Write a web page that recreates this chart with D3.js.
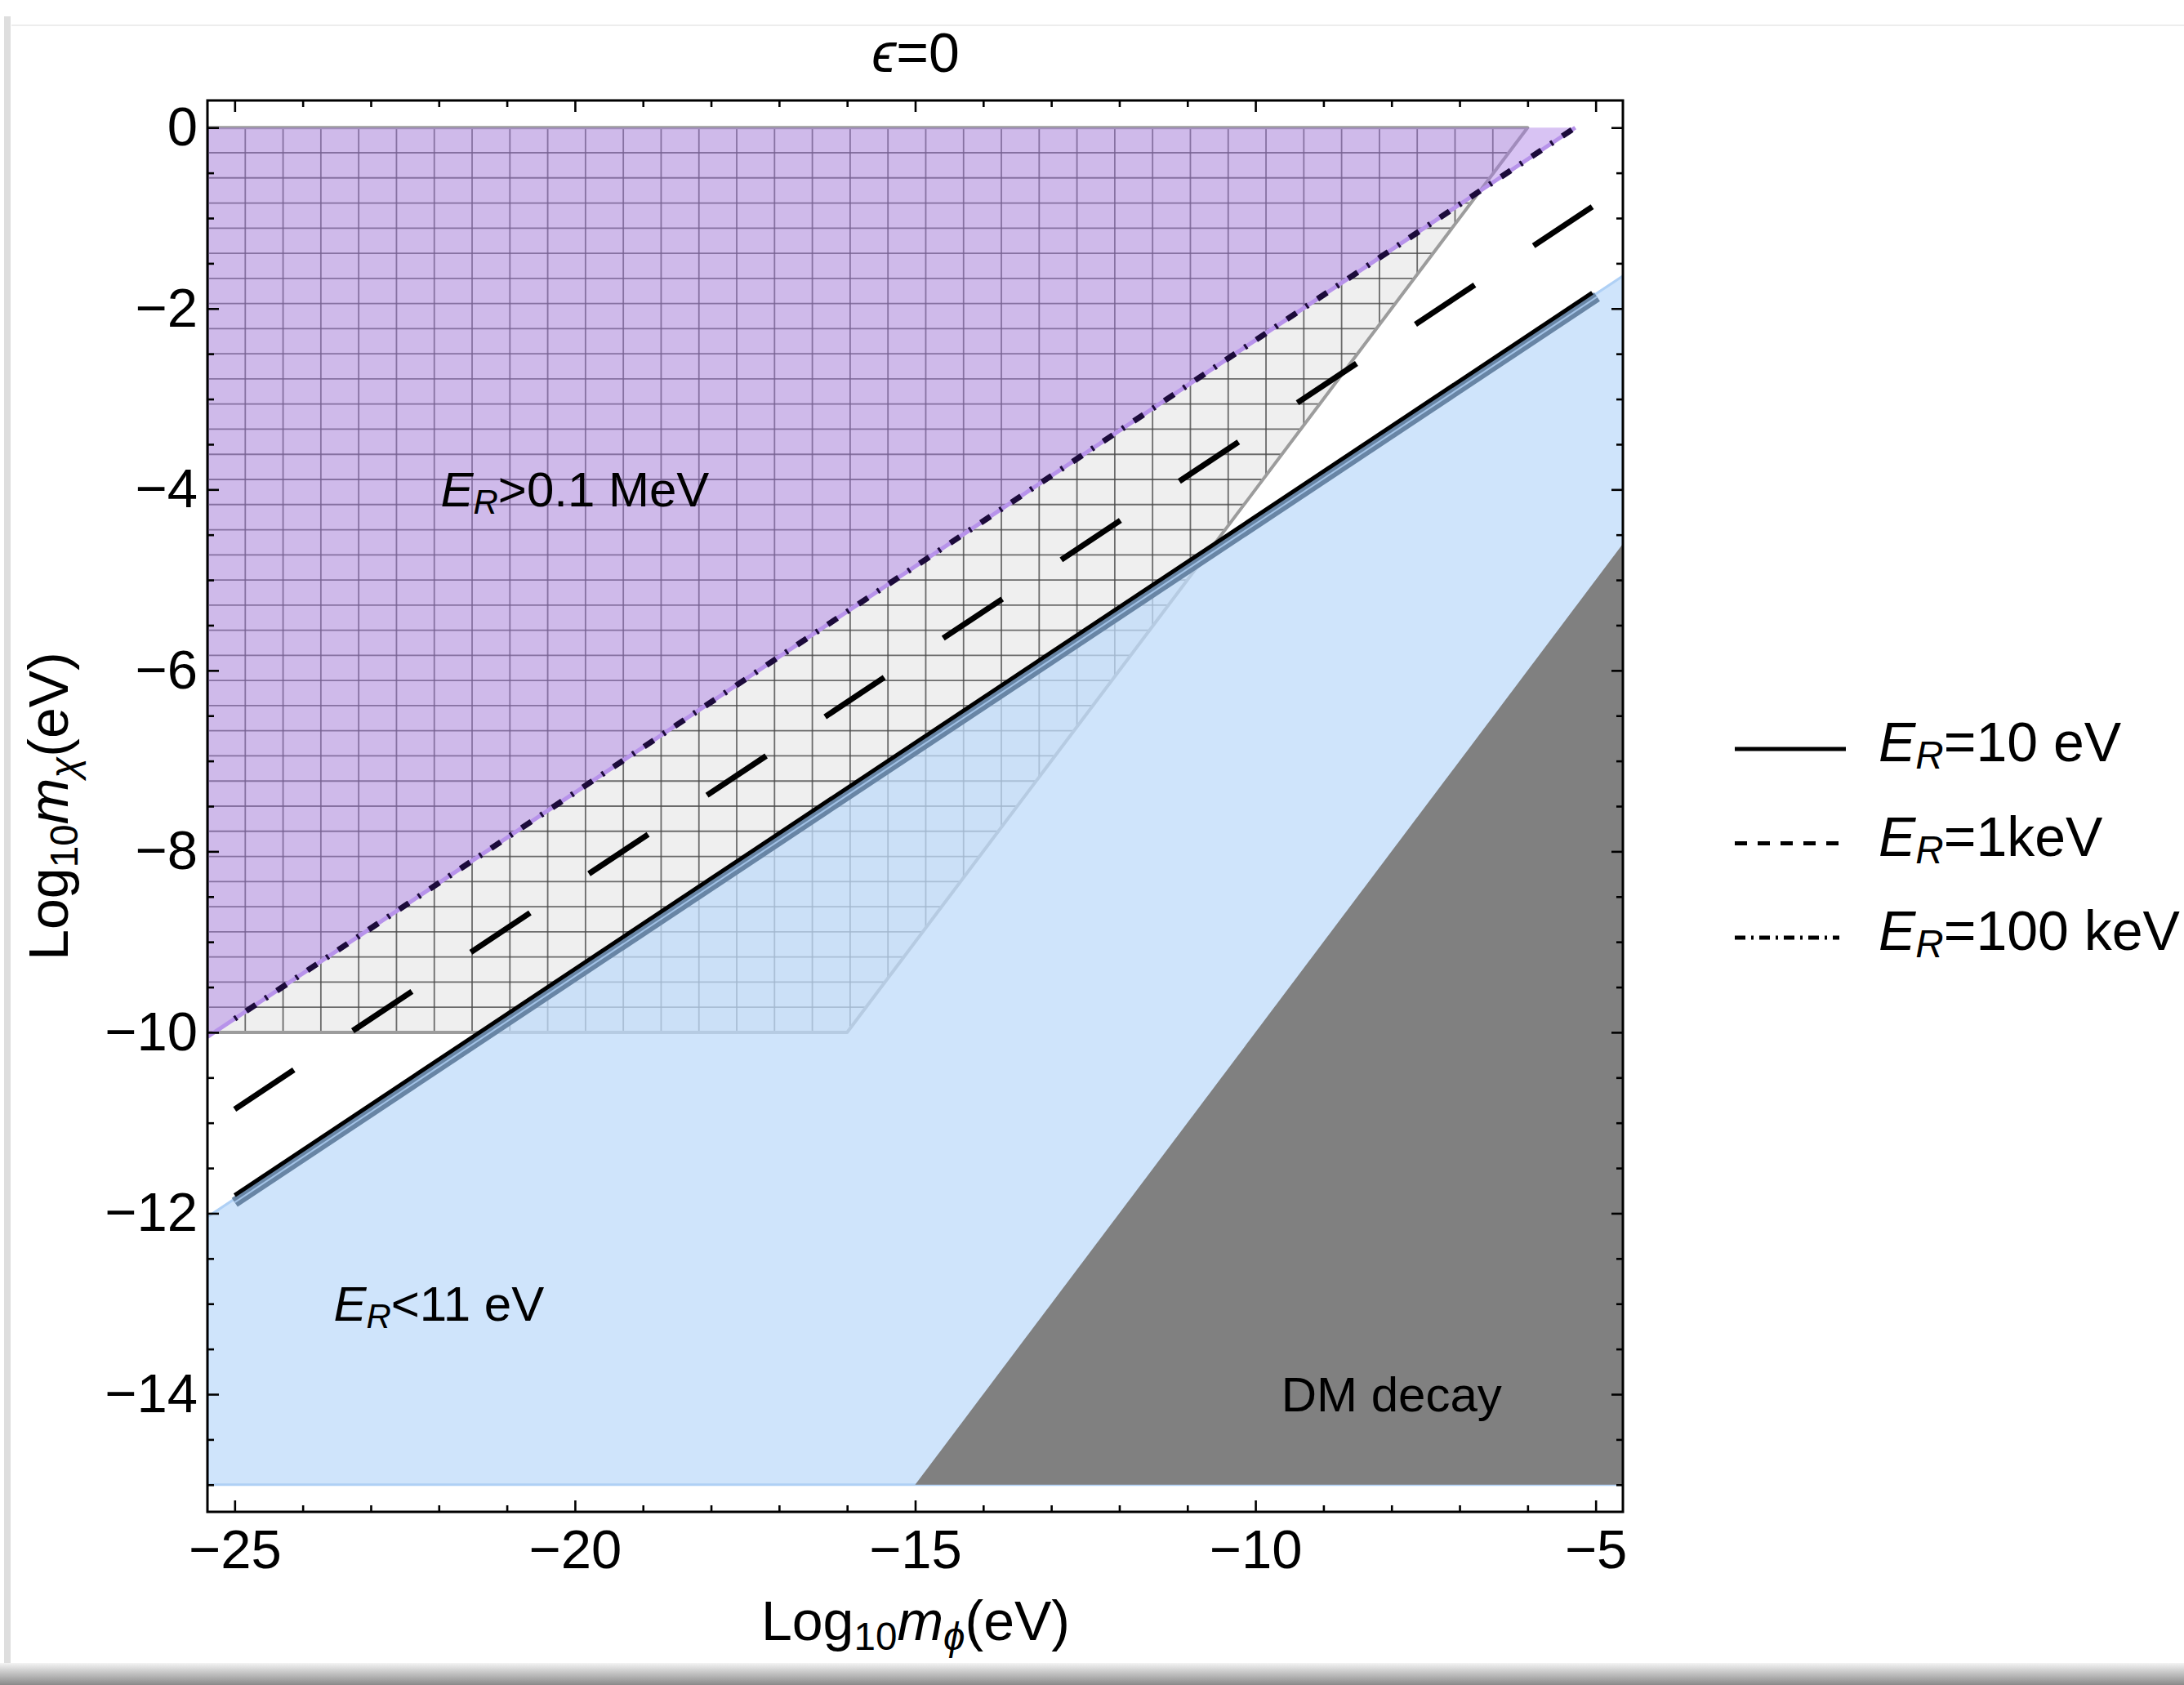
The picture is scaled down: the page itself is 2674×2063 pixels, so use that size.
<!DOCTYPE html>
<html>
<head>
<meta charset="utf-8">
<script src="https://cdn.jsdelivr.net/npm/d3@7"></script>
<style>
  body { margin: 0; background: #fff; }
  svg { display: block; }
  text { font-family: "Liberation Sans", Arial, Helvetica, sans-serif; fill: #000; }
</style>
</head>
<body>
<svg width="2674" height="2063"></svg>
<script>
const width = 2674, height = 2063;

// axis ranges and ticks
const xDomain = [-25.4, -4.6];
const yDomain = [-15.3, 0.3];
const xMajor = [-25, -20, -15, -10, -5];
const xMinor = d3.range(-25, -4.5, 1).filter(v => !xMajor.includes(v));
const yMajor = [0, -2, -4, -6, -8, -10, -12, -14];
const yMinor = d3.range(-15, 0.01, 0.5).filter(v => !yMajor.includes(v));

// shaded regions, points are (log10 m_phi, log10 m_chi)
const hatchedRegion = [[-25.4, -10], [-16, -10], [-6, 0], [-25.4, 0]];
const highRecoilRegion = [[-25.4, -10.05], [-5.3, 0], [-25.4, 0]];
const lowRecoilRegion = [[-25.4, -15], [-4.6, -15], [-4.6, -1.64], [-25.4, -12.04]];
const decayRegion = [[-15, -15], [-4.6, -15], [-4.6, -4.6]];

// mesh lines inside the hatched region
const meshX = d3.range(1, 36).map(k => -25.4 + k * 20 / 36);
const meshY = d3.range(1, 36).map(k => -k * 10 / 36);

// E_R contours
const er10 = [[-25, -11.8], [-5.05, -1.825]];
const er10Edge = [[-25, -11.88], [-4.98, -1.87]];
const er1k = [[-25, -10.85], [-5.05, -0.875]];
const er100k = [[-25, -9.85], [-5.3, 0]];
const highRecoilEdge = [[-25.4, -10.05], [-5.3, 0]];

// annotations
const regionLabels = [
  {x: -20, y: -4, sub: true, rest: '>0.1 MeV'},
  {x: -22, y: -13, sub: true, rest: '<11 eV'},
  {x: -8, y: -14, sub: false, rest: 'DM decay'}
];
const legendItems = [
  {rest: '=10 eV', dash: null},
  {rest: '=1keV', dash: '15,13'},
  {rest: '=100 keV', dash: '13,7,3,7'}
];

const svg = d3.select('svg');
const x = d3.scaleLinear().domain(xDomain).range([254, 1987]);
const y = d3.scaleLinear().domain(yDomain).range([1851, 123]);
const line = d3.line().x(d => x(d[0])).y(d => y(d[1]));

// picture card edges
const defs = svg.append('defs');
const shade = defs.append('linearGradient').attr('id', 'shade')
    .attr('x1', 0).attr('x2', 0).attr('y1', 0).attr('y2', 1);
shade.append('stop').attr('offset', '0%').attr('stop-color', '#f4f4f4');
shade.append('stop').attr('offset', '100%').attr('stop-color', '#8a8a8a');
svg.append('rect').attr('x', 0).attr('y', 2036).attr('width', width).attr('height', 27)
    .attr('fill', 'url(#shade)');
svg.append('rect').attr('x', 5).attr('y', 20).attr('width', 8).attr('height', 2016)
    .attr('fill', '#dedede');
svg.append('line').attr('x1', 14).attr('x2', width).attr('y1', 31).attr('y2', 31)
    .attr('stroke', '#ededed').attr('stroke-width', 2);

defs.append('clipPath').attr('id', 'plot')
  .append('rect').attr('x', 254).attr('y', 123).attr('width', 1733).attr('height', 1728);
defs.append('clipPath').attr('id', 'hatch')
  .append('path').attr('d', line(hatchedRegion) + 'Z');

const g = svg.append('g').attr('clip-path', 'url(#plot)');

// hatched region with mesh
g.append('path').attr('d', line(hatchedRegion) + 'Z').attr('fill', '#efefef');
const mesh = g.append('g').attr('clip-path', 'url(#hatch)')
    .attr('stroke', '#4a4a4a').attr('stroke-opacity', 0.8).attr('stroke-width', 1.8);
mesh.selectAll('.mx').data(meshX).enter().append('line')
    .attr('x1', d => x(d)).attr('x2', d => x(d)).attr('y1', y(-10)).attr('y2', y(0));
mesh.selectAll('.my').data(meshY).enter().append('line')
    .attr('x1', x(-25.4)).attr('x2', x(-6)).attr('y1', d => y(d)).attr('y2', d => y(d));
g.append('path').attr('d', line(hatchedRegion) + 'Z').attr('fill', 'none')
    .attr('stroke', '#9c9c9c').attr('stroke-width', 4).attr('stroke-linejoin', 'round');

// E_R > 0.1 MeV
g.append('path').attr('d', line(highRecoilRegion) + 'Z')
    .attr('fill', 'rgb(168,122,228)').attr('fill-opacity', 0.45);
g.append('path').attr('d', line(highRecoilEdge)).attr('fill', 'none')
    .attr('stroke', '#b793ea').attr('stroke-width', 5);

// E_R < 11 eV
g.append('path').attr('d', line(lowRecoilRegion) + 'Z')
    .attr('fill', 'rgb(191,219,250)').attr('fill-opacity', 0.75)
    .attr('stroke', 'rgb(175,208,245)').attr('stroke-width', 3);

// DM decay
g.append('path').attr('d', line(decayRegion) + 'Z').attr('fill', '#808080');

// contours
g.append('path').attr('d', line(er10Edge)).attr('fill', 'none')
    .attr('stroke', '#6885a5').attr('stroke-width', 13);
g.append('path').attr('d', line(er10Edge)).attr('fill', 'none')
    .attr('stroke', '#a2c2e6').attr('stroke-width', 2);
g.append('path').attr('d', line(er10)).attr('fill', 'none')
    .attr('stroke', '#000').attr('stroke-width', 5);
g.append('path').attr('d', line(er1k)).attr('fill', 'none')
    .attr('stroke', '#000').attr('stroke-width', 7).attr('stroke-dasharray', '87,86.6');
g.append('path').attr('d', line(er100k)).attr('fill', 'none')
    .attr('stroke', '#1c0b3b').attr('stroke-width', 7).attr('stroke-dasharray', '3,14,14,14');

// frame and ticks
function ticks(axis, values, size, transform, labels) {
  const a = svg.append('g').attr('transform', transform)
      .call(axis.tickValues(values).tickSize(size)
        .tickFormat(labels ? d3.format('d') : ''));
  a.select('.domain').remove();
  a.selectAll('.tick line').attr('stroke', '#000').attr('stroke-width', 2.6);
  return a;
}
const bx = ticks(d3.axisBottom(x).tickPadding(21), xMajor, -14, 'translate(0,1851)', true);
ticks(d3.axisBottom(x), xMinor, -8, 'translate(0,1851)', false);
ticks(d3.axisTop(x), xMajor, -14, 'translate(0,123)', false);
ticks(d3.axisTop(x), xMinor, -8, 'translate(0,123)', false);
const ly = ticks(d3.axisLeft(y).tickPadding(12), yMajor, -14, 'translate(254,0)', true);
ticks(d3.axisLeft(y), yMinor, -8, 'translate(254,0)', false);
ticks(d3.axisRight(y), yMajor, -14, 'translate(1987,0)', false);
ticks(d3.axisRight(y), yMinor, -8, 'translate(1987,0)', false);
bx.selectAll('text').attr('font-size', 67).attr('font-family', '"Liberation Sans", Arial, sans-serif');
ly.selectAll('text').attr('font-size', 67).attr('font-family', '"Liberation Sans", Arial, sans-serif');

svg.append('rect').attr('x', 254).attr('y', 123).attr('width', 1733).attr('height', 1728)
    .attr('fill', 'none').attr('stroke', '#000').attr('stroke-width', 3);

// E_R label helper
function erText(t, rest) {
  t.append('tspan').attr('font-style', 'italic').text('E');
  t.append('tspan').attr('font-style', 'italic').attr('font-size', '0.7em').attr('dy', 9).text('R');
  t.append('tspan').attr('dy', -9).text(rest);
}

regionLabels.forEach(d => {
  const t = svg.append('text').attr('x', x(d.x)).attr('y', y(d.y) + 21)
      .attr('text-anchor', 'middle').attr('font-size', 60);
  if (d.sub) erText(t, d.rest); else t.text(d.rest);
});

// title
const title = svg.append('text').attr('x', 1121).attr('y', 88)
    .attr('text-anchor', 'middle').attr('font-size', 68);
title.append('tspan').attr('font-style', 'italic').text('ϵ');
title.append('tspan').text('=0');

// axis labels
function massLabel(t, sym) {
  t.append('tspan').text('Log');
  t.append('tspan').attr('font-size', '0.7em').attr('dy', 12).text('10');
  t.append('tspan').attr('font-style', 'italic').attr('dy', -12).text('m');
  t.append('tspan').attr('font-style', 'italic').attr('font-size', '0.7em').attr('dy', 12).text(sym);
  t.append('tspan').attr('dy', -12).text('(eV)');
}
massLabel(svg.append('text').attr('x', 1121).attr('y', 2008)
    .attr('text-anchor', 'middle').attr('font-size', 68), 'ϕ');
massLabel(svg.append('text').attr('transform', 'translate(83,987) rotate(-90)')
    .attr('text-anchor', 'middle').attr('font-size', 68), 'χ');

// legend
const legend = svg.append('g').selectAll('g').data(legendItems).enter().append('g')
    .attr('transform', (d, i) => `translate(0,${917 + i * 115.5})`);
legend.append('line').attr('x1', 2124).attr('x2', d => d.dash ? 2252 : 2260)
    .attr('y1', 0).attr('y2', 0)
    .attr('stroke', '#000').attr('stroke-width', 5)
    .attr('stroke-dasharray', d => d.dash);
legend.append('text').attr('x', 2300).attr('y', 15).attr('font-size', 68)
    .each(function(d) { erText(d3.select(this), d.rest); });
</script>
</body>
</html>
